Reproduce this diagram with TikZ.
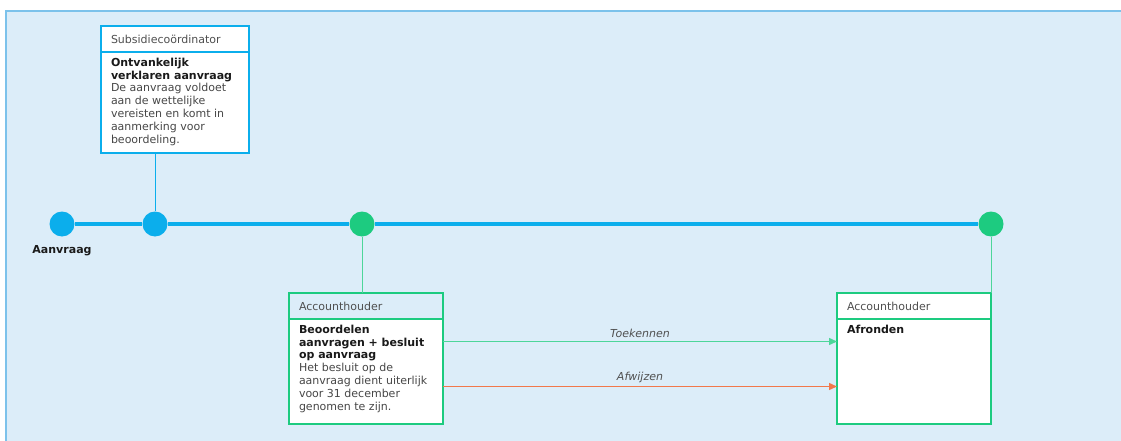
\documentclass[tikz,border=0pt]{standalone}
\usepackage{fontspec}
\setmainfont{DejaVu Sans}
\usepackage{tikz}
\usetikzlibrary{arrows.meta, positioning, calc}
\definecolor{achter}{HTML}{DCEDF9}
\definecolor{rand}{HTML}{7CC2EB}
\definecolor{blauw}{HTML}{0BAEEC}
\definecolor{groen}{HTML}{1DCB80}
\definecolor{lichtgroen}{HTML}{4DD69A}
\definecolor{oranje}{HTML}{F2784B}
\definecolor{kopgrijs}{HTML}{4F4F4F}
\definecolor{tekstgrijs}{HTML}{474747}
\definecolor{zwart}{HTML}{1A1A1A}
\newcommand{\diagramfont}{\fontsize{11pt}{12.8pt}\selectfont}
\tikzset{
    kop/.style={draw, fill=white, line width=2.4pt, outer sep=0pt, anchor=north west, minimum height=26pt, text width=#1, inner xsep=10pt, align=left, text=kopgrijs, font=\diagramfont},
    taak/.style={draw, fill=white, line width=2.4pt, outer sep=0pt, anchor=north west, inner xsep=10pt, inner ysep=6pt, text=tekstgrijs, font=\diagramfont},
    mijlpaal/.style={circle, minimum size=25pt, inner sep=0pt},
    pijl/.style={line width=1.4pt, -{Triangle[length=8pt, width=7pt]}},
    pijltekst/.style={text=kopgrijs, font=\diagramfont\itshape, inner sep=3.5pt},
}

\begin{document}
\begin{tikzpicture}[x=1pt, y=-1pt]
    \useasboundingbox (0, 0) rectangle (1121, 441);
    \fill[achter] (6, 11) rectangle (1130, 450);
    \draw[rand, line width=1.5pt] (6, 450) -- (6, 11) -- (1130, 11);

    \node[kop=128pt, draw=blauw] (k1) at (101, 26) {Subsidiecoördinator};
    \node[taak, draw=blauw] (t1) at (k1.south west) {\parbox[t][89pt][t]{128pt}{\textcolor{zwart}{\bfseries Ontvankelijk\\verklaren aanvraag}\\De aanvraag voldoet\\aan de wettelijke\\vereisten en komt in\\aanmerking voor\\beoordeling.}};

    \node[kop=134pt, draw=groen, fill=achter] (k2) at (289, 293) {Accounthouder};
    \node[taak, draw=groen] (t2) at (k2.south west) {\parbox[t][93pt][t]{134pt}{\textcolor{zwart}{\bfseries Beoordelen\\aanvragen + besluit\\op aanvraag}\\Het besluit op de\\aanvraag dient uiterlijk\\voor 31 december\\genomen te zijn.}};

    \node[kop=134pt, draw=groen] (k3) at (837, 293) {Accounthouder};
    \node[taak, draw=groen] (t3) at (k3.south west) {\parbox[t][93pt][t]{134pt}{\textcolor{zwart}{\bfseries Afronden}}};

    \node[mijlpaal, fill=blauw] (m1) at (62, 224) {};
    \node[mijlpaal, fill=blauw] (m2) at (155, 224) {};
    \node[mijlpaal, fill=groen] (m3) at (362, 224) {};
    \node[mijlpaal, fill=groen] (m4) at (991, 224) {};
    \node[text=zwart, font=\diagramfont\bfseries] (aanvraag) at (62, 251) {Aanvraag};

    \draw[blauw, line width=3.5pt] (m1) -- (m2);
    \draw[blauw, line width=3.5pt] (m2) -- (m3);
    \draw[blauw, line width=3.5pt] (m3) -- (m4);

    \draw[blauw, line width=1pt] (t1.south -| m2) -- (m2);
    \draw[lichtgroen, line width=1pt] (m3) -- (m3 |- k2.north);
    \draw[lichtgroen, line width=1pt] (m4) -- (k3.north east);

    \coordinate (a1) at ([yshift=30pt]t2.east);
    \coordinate (a2) at ([yshift=-15pt]t2.east);
    \draw[pijl, lichtgroen] (a1) -- (a1 -| t3.west) node[midway, above, pijltekst] {Toekennen};
    \draw[pijl, oranje] (a2) -- (a2 -| t3.west) node[midway, above, pijltekst] {Afwijzen};
\end{tikzpicture}
\end{document}
